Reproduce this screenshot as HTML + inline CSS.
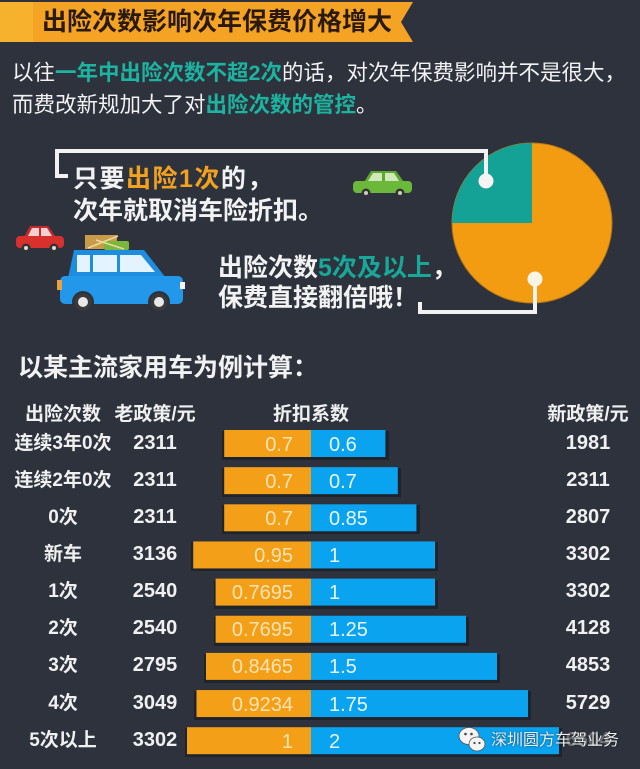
<!DOCTYPE html>
<html><head><meta charset="utf-8">
<style>
html,body{margin:0;padding:0;}
body{width:640px;height:769px;overflow:hidden;background:#2d323d;position:relative;font-family:"Liberation Sans","Noto Sans CJK SC",sans-serif;color:#f2f2f2;}
.t{position:absolute;white-space:nowrap;line-height:1;}
.b{font-weight:bold;}
.teal{color:#1db3a1;font-weight:bold;}
.org{color:#f2a21f;}
.cell{position:absolute;height:27px;line-height:27px;white-space:nowrap;text-align:center;font-weight:bold;font-size:19px;color:#f0f0f0;margin-top:1px;}
.num{font-size:20px;}
.ol{position:absolute;height:27px;line-height:27px;white-space:nowrap;text-align:right;width:120px;font-size:20px;color:#fde3b2;margin-top:1.5px;}
.bl{position:absolute;height:27px;line-height:27px;white-space:nowrap;font-size:20px;color:#e9f6ff;margin-top:1.5px;}
</style></head><body>
<svg width="640" height="769" style="position:absolute;left:0;top:0" xmlns="http://www.w3.org/2000/svg">
  <!-- banner -->
  <polygon points="0,2 413,2 401,22 413,42 0,42" fill="#f4a324"/>
  <rect x="0" y="2" width="33" height="40" fill="#f6b22c"/>
  <!-- pie -->
  <circle cx="532" cy="223" r="80" fill="#f39c12" stroke="#b97a12" stroke-width="1"/>
  <path d="M532,223 L532,143 A80,80 0 0,0 452,223 Z" fill="#13a295"/>
  <!-- brackets -->
  <path d="M68,176 H57 V151 H486 V181" stroke="#f2f2f2" stroke-width="4" fill="none"/>
  <circle cx="486" cy="181" r="7.5" fill="#f4f4f4"/>
  <path d="M420,302 V312 H535 V280" stroke="#f2f2f2" stroke-width="4" fill="none"/>
  <circle cx="535" cy="279" r="7.5" fill="#f8f4e6"/>
  <!-- green car -->
  <polygon points="364,182 371,171 396,171 404,182" fill="#5ea832"/>
  <polygon points="368,181 373,173 382,173 382,181" fill="#cfe9b8"/>
  <polygon points="385,181 385,173 394,173 399,181" fill="#cfe9b8"/>
  <rect x="353" y="181" width="59" height="12" rx="4" fill="#6cb83a"/>
  <circle cx="366" cy="193" r="4.5" fill="#333"/><circle cx="366" cy="193" r="2" fill="#ccc"/>
  <circle cx="400" cy="193" r="4.5" fill="#333"/><circle cx="400" cy="193" r="2" fill="#ccc"/>
  <!-- red car -->
  <polygon points="24,237 30,226 48,226 56,237" fill="#c9282a"/>
  <polygon points="28,236 32,228 39,228 39,236" fill="#f3d0cf"/>
  <polygon points="41,236 41,228 47,228 52,236" fill="#f3d0cf"/>
  <rect x="16" y="236" width="48" height="12" rx="4" fill="#d8302c"/>
  <circle cx="26" cy="248" r="4.5" fill="#333"/><circle cx="26" cy="248" r="2" fill="#ddd"/>
  <circle cx="54" cy="248" r="4.5" fill="#333"/><circle cx="54" cy="248" r="2" fill="#ddd"/>
  <!-- luggage -->
  <rect x="85" y="235" width="32" height="14" fill="#c99c4a"/>
  <rect x="104" y="241" width="25" height="9" rx="2" fill="#79b83a"/>
  <line x1="88" y1="248" x2="118" y2="236" stroke="#e9d9a0" stroke-width="1.5"/>
  <line x1="96" y1="240" x2="124" y2="249" stroke="#e9d9a0" stroke-width="1.5"/>
  <!-- blue car -->
  <polygon points="68,278 74,250 144,250 166,278" fill="#1d8de0"/>
  <rect x="60" y="276" width="123" height="28" rx="5" fill="#2398ea"/>
  <rect x="77" y="255" width="13" height="17" fill="#e3f3ff"/>
  <rect x="93" y="255" width="24" height="17" fill="#e3f3ff"/>
  <polygon points="120,255 141,255 155,272 120,272" fill="#e3f3ff"/>
  <rect x="57" y="280" width="5" height="10" fill="#e9a040"/>
  <rect x="180" y="282" width="5" height="7" fill="#f4f4f4"/>
  <circle cx="83" cy="302" r="11" fill="#2d323d"/><circle cx="83" cy="302" r="8.5" fill="#3a3a3a"/><circle cx="83" cy="302" r="5" fill="#e8e8e8"/>
  <circle cx="159" cy="302" r="11" fill="#2d323d"/><circle cx="159" cy="302" r="8.5" fill="#3a3a3a"/><circle cx="159" cy="302" r="5" fill="#e8e8e8"/>
  <!-- bars -->
  <g fill="#1f232b">
    <rect x="222" y="431" width="167" height="29"/>
    <rect x="222" y="468" width="179" height="29"/>
    <rect x="222" y="505" width="198" height="29"/>
    <rect x="191" y="542" width="247" height="29"/>
    <rect x="214" y="580" width="224" height="29"/>
    <rect x="214" y="617" width="255" height="29"/>
    <rect x="204" y="654" width="296" height="29"/>
    <rect x="194" y="691" width="337" height="29"/>
    <rect x="185" y="728" width="377" height="29"/>
  </g>
  <g fill="#f39f18">
    <rect x="224.2" y="430" width="86.8" height="27"/>
    <rect x="224.2" y="467.15" width="86.8" height="27"/>
    <rect x="224.2" y="504.3" width="86.8" height="27"/>
    <rect x="193.2" y="541.45" width="117.8" height="27"/>
    <rect x="215.6" y="578.6" width="95.4" height="27"/>
    <rect x="215.6" y="615.75" width="95.4" height="27"/>
    <rect x="206" y="652.9" width="105" height="27"/>
    <rect x="196.5" y="690.05" width="114.5" height="27"/>
    <rect x="187" y="727.2" width="124" height="27"/>
  </g>
  <g fill="#0aa3f0">
    <rect x="311" y="430" width="74.4" height="27"/>
    <rect x="311" y="467.15" width="86.8" height="27"/>
    <rect x="311" y="504.3" width="105.4" height="27"/>
    <rect x="311" y="541.45" width="124" height="27"/>
    <rect x="311" y="578.6" width="124" height="27"/>
    <rect x="311" y="615.75" width="155" height="27"/>
    <rect x="311" y="652.9" width="186" height="27"/>
    <rect x="311" y="690.05" width="217" height="27"/>
    <rect x="311" y="727.2" width="248" height="27"/>
  </g>
</svg>

<!-- title -->
<div class="t b" style="left:42px;top:10px;font-size:25px;color:#2a1a0e;">出险次数影响次年保费价格增大</div>

<!-- paragraph -->
<div class="t" style="left:12px;top:63px;font-size:21.5px;">以往<span class="teal">一年中出险次数不超2次</span>的话，对次年保费影响并不是很大，</div>
<div class="t" style="left:12px;top:95px;font-size:21.5px;">而费改新规加大了对<span class="teal">出险次数的管控</span>。</div>

<!-- callouts -->
<div class="t b" style="left:73px;top:167px;font-size:25px;letter-spacing:1.5px;">只要<span class="org">出险1次</span>的，</div>
<div class="t b" style="left:73px;top:199px;font-size:25px;">次年就取消车险折扣。</div>
<div class="t b" style="left:218px;top:256px;font-size:25px;">出险次数<span style="color:#18a899">5次及以上</span>，</div>
<div class="t b" style="left:218px;top:286px;font-size:25px;">保费直接翻倍哦！</div>

<!-- section title -->
<div class="t b" style="left:18px;top:356px;font-size:25px;">以某主流家用车为例计算：</div>

<!-- header -->
<div class="cell" style="left:3px;width:120px;top:400px;">出险次数</div>
<div class="cell" style="left:95px;width:120px;top:400px;">老政策/元</div>
<div class="cell" style="left:251px;width:120px;top:400px;">折扣系数</div>
<div class="cell" style="left:528px;width:120px;top:400px;">新政策/元</div>

<!-- rows -->
<div class="cell" style="left:3px;width:120px;top:428.5px;">连续3年0次</div>
<div class="cell num" style="left:115px;width:80px;top:428.5px;">2311</div>
<div class="ol" style="left:173px;top:430px;">0.7</div>
<div class="bl" style="left:329px;top:430px;">0.6</div>
<div class="cell num" style="left:548px;width:80px;top:428.5px;">1981</div>

<div class="cell" style="left:3px;width:120px;top:465.65px;">连续2年0次</div>
<div class="cell num" style="left:115px;width:80px;top:465.65px;">2311</div>
<div class="ol" style="left:173px;top:467.15px;">0.7</div>
<div class="bl" style="left:329px;top:467.15px;">0.7</div>
<div class="cell num" style="left:548px;width:80px;top:465.65px;">2311</div>

<div class="cell" style="left:3px;width:120px;top:502.8px;">0次</div>
<div class="cell num" style="left:115px;width:80px;top:502.8px;">2311</div>
<div class="ol" style="left:173px;top:504.3px;">0.7</div>
<div class="bl" style="left:329px;top:504.3px;">0.85</div>
<div class="cell num" style="left:548px;width:80px;top:502.8px;">2807</div>

<div class="cell" style="left:3px;width:120px;top:539.95px;">新车</div>
<div class="cell num" style="left:115px;width:80px;top:539.95px;">3136</div>
<div class="ol" style="left:173px;top:541.45px;">0.95</div>
<div class="bl" style="left:329px;top:541.45px;">1</div>
<div class="cell num" style="left:548px;width:80px;top:539.95px;">3302</div>

<div class="cell" style="left:3px;width:120px;top:577.1px;">1次</div>
<div class="cell num" style="left:115px;width:80px;top:577.1px;">2540</div>
<div class="ol" style="left:173px;top:578.6px;">0.7695</div>
<div class="bl" style="left:329px;top:578.6px;">1</div>
<div class="cell num" style="left:548px;width:80px;top:577.1px;">3302</div>

<div class="cell" style="left:3px;width:120px;top:614.25px;">2次</div>
<div class="cell num" style="left:115px;width:80px;top:614.25px;">2540</div>
<div class="ol" style="left:173px;top:615.75px;">0.7695</div>
<div class="bl" style="left:329px;top:615.75px;">1.25</div>
<div class="cell num" style="left:548px;width:80px;top:614.25px;">4128</div>

<div class="cell" style="left:3px;width:120px;top:651.4px;">3次</div>
<div class="cell num" style="left:115px;width:80px;top:651.4px;">2795</div>
<div class="ol" style="left:173px;top:652.9px;">0.8465</div>
<div class="bl" style="left:329px;top:652.9px;">1.5</div>
<div class="cell num" style="left:548px;width:80px;top:651.4px;">4853</div>

<div class="cell" style="left:3px;width:120px;top:688.55px;">4次</div>
<div class="cell num" style="left:115px;width:80px;top:688.55px;">3049</div>
<div class="ol" style="left:173px;top:690.05px;">0.9234</div>
<div class="bl" style="left:329px;top:690.05px;">1.75</div>
<div class="cell num" style="left:548px;width:80px;top:688.55px;">5729</div>

<div class="cell" style="left:3px;width:120px;top:725.7px;">5次以上</div>
<div class="cell num" style="left:115px;width:80px;top:725.7px;">3302</div>
<div class="ol" style="left:173px;top:727.2px;">1</div>
<div class="bl" style="left:329px;top:727.2px;">2</div>
<div class="cell num" style="left:548px;width:80px;top:725.7px;opacity:0.35;">6604</div>

<!-- watermark -->
<svg width="30" height="30" style="position:absolute;left:457px;top:725px" xmlns="http://www.w3.org/2000/svg">
  <ellipse cx="12" cy="11" rx="10" ry="8.5" fill="#f4f4f4" stroke="#555" stroke-width="0.8"/>
  <ellipse cx="20" cy="19" rx="8" ry="7" fill="#f4f4f4" stroke="#555" stroke-width="0.8"/>
  <circle cx="8.5" cy="9" r="1.3" fill="#444"/><circle cx="14.5" cy="9" r="1.3" fill="#444"/>
  <circle cx="17.5" cy="18" r="1.1" fill="#444"/><circle cx="22.5" cy="18" r="1.1" fill="#444"/>
</svg>
<div class="t" style="left:491px;top:732.5px;font-size:16px;color:#ededed;text-shadow:0 0 2px rgba(0,0,0,0.6);">深圳圆方车驾业务</div>
</body></html>
